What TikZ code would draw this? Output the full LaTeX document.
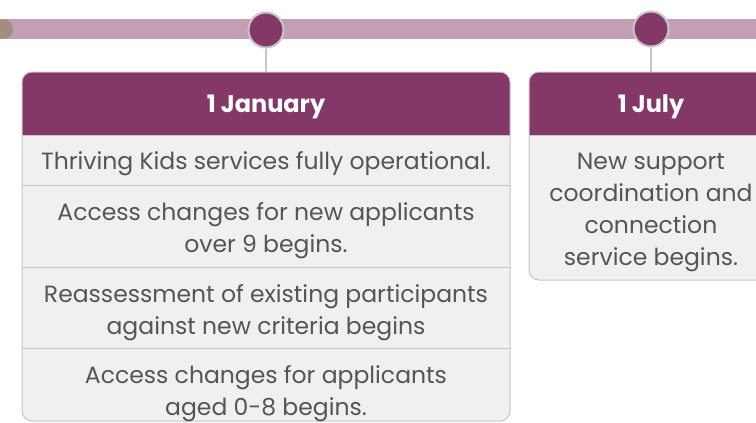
\documentclass[tikz,border=0pt]{standalone}
\usepackage{fontspec}
\setmainfont{Poppins}
\usepackage{xcolor}
\usetikzlibrary{positioning}
\definecolor{plum}{HTML}{833868}
\definecolor{barpink}{HTML}{C29FB5}
\definecolor{startbrown}{HTML}{A28E7E}
\definecolor{ringgray}{HTML}{C6C6C6}
\definecolor{cellgray}{HTML}{F0F0F0}
\definecolor{textgray}{HTML}{555555}
\tikzset{
bar/.style={line width=20pt,color=barpink},
startdot/.style={circle,fill=startbrown,minimum size=20pt,inner sep=0pt},
milestone/.style={circle,fill=plum,draw=ringgray,line width=2pt,minimum size=35pt,inner sep=0pt},
stem/.style={draw=ringgray,line width=2pt},
cardbody/.style={fill=cellgray,rounded corners=10pt},
cardedge/.style={draw=ringgray,line width=1pt,rounded corners=10pt},
headtext/.style={text=white,font=\fontsize{24}{28}\selectfont\bfseries},
rowtext/.style={text=textgray,align=center,inner sep=0pt,font=\fontsize{23.5}{32}\selectfont},
rule/.style={draw=ringgray,line width=1pt}
}
\begin{document}
\begin{tikzpicture}[x=1pt,y=-1pt]
\useasboundingbox (0,0) rectangle (756,423);
\clip (0,0) rectangle (756,423);
% the timeline
\coordinate (barL) at (0,29);
\coordinate (barR) at (756,29);
\draw[bar] (barL) -- (barR);
\node[startdot] (start) at (3,29) {};
% the cards
\fill[cardbody] (22,72) rectangle (510,421);
\fill[cardbody] (529,72) rectangle (773,280);
\fill[plum,rounded corners=10pt] (22,72) rectangle (510,135);
\fill[plum] (22,110) rectangle (510,135);
\fill[plum,rounded corners=10pt] (529,72) rectangle (773,135);
\fill[plum] (529,110) rectangle (773,135);
\foreach \y in {135,185,267,348}
{
  \draw[rule] (22,\y) -- (510,\y);
}
\draw[rule] (529,135) -- (773,135);
\draw[cardedge] (22,72) rectangle (510,421);
\draw[cardedge] (529,72) rectangle (773,280);
% the headers
\node[headtext] (headJan) at (266,107) {1 January};
\node[headtext] (headJul) at (651,107) {1 July};
\coordinate (topJan) at (266,72);
\coordinate (topJul) at (651,72);
% the rows
\node[rowtext] (fullOp) at (266,164) {Thriving Kids services fully operational.};
\node[rowtext] (overNine) at (266,231) {Access changes for new applicants\\over 9 begins.};
\node[rowtext] (reassess) at (266,313) {Reassessment of existing participants\\against new criteria begins};
\node[rowtext] (zeroEight) at (266,394) {Access changes for applicants\\aged 0-8 begins.};
\node[rowtext] (support) at (651,212) {New support\\coordination and\\connection\\service begins.};
% the milestones
\node[milestone] (dotJan) at (266,30) {};
\node[milestone] (dotJul) at (651,29) {};
\draw[stem] (dotJan.south) -- (topJan);
\draw[stem] (dotJul.south) -- (topJul);
\end{tikzpicture}
\end{document}
